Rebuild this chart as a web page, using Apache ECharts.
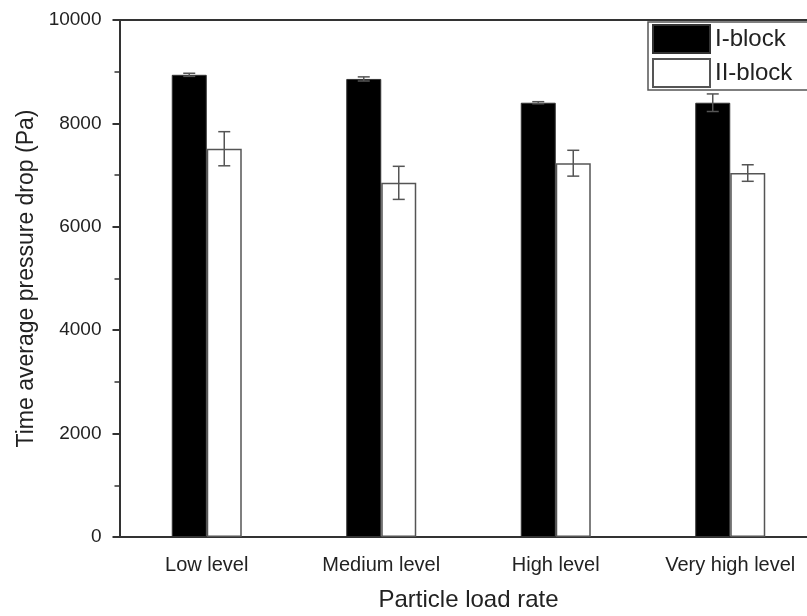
<!DOCTYPE html>
<html>
<head>
<meta charset="utf-8">
<script src="https://cdn.jsdelivr.net/npm/echarts@6/dist/echarts.min.js"></script>
<style>
  html, body { margin: 0; padding: 0; background: #fff; }
  #chart { width: 807px; height: 616px; }
</style>
</head>
<body>
<div id="chart"></div>
<script>
// 数据
const categories = ['Low level', 'Medium level', 'High level', 'Very high level'];
const iBlock = [8940, 8860, 8400, 8400];
const iBlockErr = [30, 40, 20, 170];
const iiBlock = [7510, 6850, 7230, 7040];
const iiBlockErr = [330, 320, 250, 160];
const yTicks = { min: 0, max: 10000, interval: 2000 };

const BAR_W = 35;
const FONT = '"Liberation Sans", Arial, sans-serif';
const AXIS_COLOR = '#333';
const TEXT_COLOR = '#222';

const chart = echarts.init(document.getElementById('chart'));

// 误差线 (custom series)
const errorSeries = (vals, errs, offset) => ({
    type: 'custom',
    xAxisIndex: 0,
    yAxisIndex: 0,
    z: 10,
    silent: true,
    data: vals.map((v, i) => [i, v - errs[i], v + errs[i]]),
    encode: { x: 0, y: [1, 2] },
    renderItem: (params, api) => {
        const lo = api.coord([api.value(0), api.value(1)]);
        const hi = api.coord([api.value(0), api.value(2)]);
        const x = lo[0] + offset;
        const cap = 6;
        const style = { stroke: '#555', lineWidth: 1.5 };
        return {
            type: 'group',
            children: [
                { type: 'line', shape: { x1: x, y1: lo[1], x2: x, y2: hi[1] }, style },
                { type: 'line', shape: { x1: x - cap, y1: hi[1], x2: x + cap, y2: hi[1] }, style },
                { type: 'line', shape: { x1: x - cap, y1: lo[1], x2: x + cap, y2: lo[1] }, style }
            ]
        };
    }
});

const hiddenCat = (position, tickOpts, showLine) => ({
    type: 'category',
    data: categories,
    position,
    axisLine: { show: !!showLine, lineStyle: { color: AXIS_COLOR, width: 2 } },
    axisTick: tickOpts,
    axisLabel: { show: false },
    splitLine: { show: false }
});

chart.setOption({
    backgroundColor: '#fff',
    textStyle: { fontFamily: FONT },
    grid: { left: 119.5, top: 20, width: 698, height: 517, outerBoundsMode: 'none' },
    legend: {
        left: 648,
        top: 22,
        orient: 'vertical',
        icon: 'rect',
        itemWidth: 57,
        itemHeight: 28,
        itemGap: 4,
        padding: [2, 30, 2, 4],
        borderColor: '#555',
        borderWidth: 1.5,
        textStyle: { fontSize: 24, color: TEXT_COLOR, fontFamily: FONT },
        data: ['I-block', 'II-block']
    },
    xAxis: [
        {
            type: 'category',
            data: categories,
            position: 'bottom',
            name: 'Particle load rate',
            nameLocation: 'middle',
            nameGap: 51,
            nameTextStyle: { fontSize: 24, color: TEXT_COLOR, fontFamily: FONT },
            axisLine: { lineStyle: { color: AXIS_COLOR, width: 2 } },
            axisTick: { alignWithLabel: true, length: 8, lineStyle: { color: AXIS_COLOR, width: 2 } },
            axisLabel: { fontSize: 20, color: TEXT_COLOR, margin: 18, fontFamily: FONT },
            splitLine: { show: false }
        },
        hiddenCat('bottom', { inside: true, length: 5, lineStyle: { color: AXIS_COLOR, width: 1.5 } }),
        hiddenCat('top', { inside: true, alignWithLabel: true, length: 8, lineStyle: { color: AXIS_COLOR, width: 2 } }, true),
        hiddenCat('top', { inside: true, length: 5, lineStyle: { color: AXIS_COLOR, width: 1.5 } })
    ],
    yAxis: [
        {
            type: 'value',
            ...yTicks,
            name: 'Time average pressure drop (Pa)',
            nameLocation: 'middle',
            nameGap: 79,
            nameTextStyle: { fontSize: 23, color: TEXT_COLOR, fontFamily: FONT },
            axisLine: { show: true, lineStyle: { color: AXIS_COLOR, width: 2 } },
            axisTick: { show: true, length: 7, lineStyle: { color: AXIS_COLOR, width: 2 } },
            minorTick: { show: true, splitNumber: 2, length: 5, lineStyle: { color: AXIS_COLOR, width: 1.5 } },
            axisLabel: { fontSize: 19, color: TEXT_COLOR, margin: 18, fontFamily: FONT, formatter: v => String(v) },
            splitLine: { show: false }
        },
        {
            type: 'value',
            ...yTicks,
            position: 'right',
            axisLine: { show: true, lineStyle: { color: AXIS_COLOR, width: 2 } },
            axisTick: { show: true, inside: true, length: 7, lineStyle: { color: AXIS_COLOR, width: 2 } },
            minorTick: { show: true, splitNumber: 2, length: 5, lineStyle: { color: AXIS_COLOR, width: 1.5 } },
            axisLabel: { show: false },
            splitLine: { show: false }
        }
    ],
    series: [
        {
            name: 'I-block',
            type: 'bar',
            data: iBlock,
            barWidth: BAR_W,
            barGap: '0%',
            itemStyle: { color: '#000', borderColor: '#333', borderWidth: 1 }
        },
        {
            name: 'II-block',
            type: 'bar',
            data: iiBlock,
            barWidth: BAR_W,
            barGap: '0%',
            itemStyle: { color: '#fff', borderColor: '#555', borderWidth: 1.5 }
        },
        errorSeries(iBlock, iBlockErr, -BAR_W / 2),
        errorSeries(iiBlock, iiBlockErr, BAR_W / 2)
    ]
});
</script>
</body>
</html>
